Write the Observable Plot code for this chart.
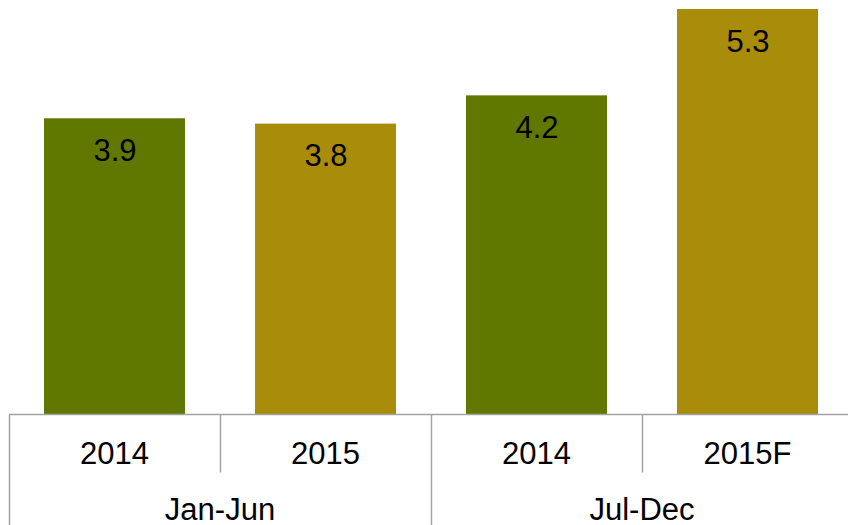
<!DOCTYPE html>
<html><head><meta charset="utf-8">
<script src="https://cdn.jsdelivr.net/npm/d3@7"></script>
<script src="https://cdn.jsdelivr.net/npm/@observablehq/plot@0.6"></script>
<style>body{margin:0;background:#fff} svg{display:block}</style>
</head><body><div id="chart"></div>
<script>
const periods = ["Jan-Jun", "Jan-Jun", "Jul-Dec", "Jul-Dec"];
const years = ["2014", "2015", "2014", "2015F"];
const series = ["2014", "2015", "2014", "2015"];
const values = [3.87, 3.8, 4.17, 5.3];
const valueLabels = ["3.9", "3.8", "4.2", "5.3"];
const seriesNames = ["2014", "2015"];
const seriesColors = ["#607800", "#a98c0a"];

const data = values.map((v, i) => ({
  key: periods[i] + " " + years[i], period: periods[i], year: years[i],
  series: series[i], value: v, label: valueLabels[i]
}));
const keys = data.map(d => d.key);
const FONT = "'Liberation Sans', Arial, sans-serif";
const GREY = "#a3a3a3";

const axisMark = (index, scales, vals, dims) => {
  const x = scales.x, y = scales.y;
  const bw = x(keys[1]) - x(keys[0]);
  const y0 = Math.round(y(0)) + 0.5;
  const bottom = dims.height;
  const g = d3.create("svg:g");
  g.append("line").attr("x1", dims.marginLeft).attr("x2", dims.width)
    .attr("y1", y0).attr("y2", y0).attr("stroke", GREY).attr("stroke-width", 1.5);
  data.forEach((d, i) => {
    const xs = Math.round(x(d.key)) + 0.5;
    const groupStart = i === 0 || periods[i] !== periods[i - 1];
    g.append("line").attr("x1", xs).attr("x2", xs).attr("y1", y0)
      .attr("y2", groupStart ? bottom : y0 + 58)
      .attr("stroke", GREY).attr("stroke-width", 1.5);
    g.append("text").attr("x", x(d.key) + bw / 2).attr("y", y0 + 49.5)
      .attr("text-anchor", "middle").attr("font-family", FONT).attr("font-size", 31)
      .attr("fill", "#000").text(d.year);
  });
  const groups = Array.from(new Set(periods));
  groups.forEach(p => {
    const members = data.filter(d => d.period === p);
    const x1 = x(members[0].key), x2 = x(members[members.length - 1].key) + bw;
    g.append("text").attr("x", (x1 + x2) / 2).attr("y", y0 + 105)
      .attr("text-anchor", "middle").attr("font-family", FONT).attr("font-size", 31)
      .attr("fill", "#000").text(p);
  });
  return g.node();
};

const chart = Plot.plot({
  width: 848,
  height: 525,
  marginLeft: 9,
  marginRight: 0,
  marginTop: 9,
  marginBottom: 111,
  style: {fontFamily: FONT, background: "#fff"},
  x: {type: "band", domain: keys, range: [9, 853], padding: 0, axis: null},
  y: {domain: [0, 5.3], range: [414, 9], axis: null},
  color: {domain: seriesNames, range: seriesColors},
  marks: [
    Plot.barY(data, {x: "key", y: "value", fill: "series", insetLeft: 35, insetRight: 35}),
    Plot.text(data, {x: "key", y: "value", text: "label", lineAnchor: "top", dy: 20,
      fontSize: 31, fill: "#000", fontFamily: FONT}),
    axisMark
  ]
});
document.getElementById("chart").appendChild(chart);
</script>
</body></html>
